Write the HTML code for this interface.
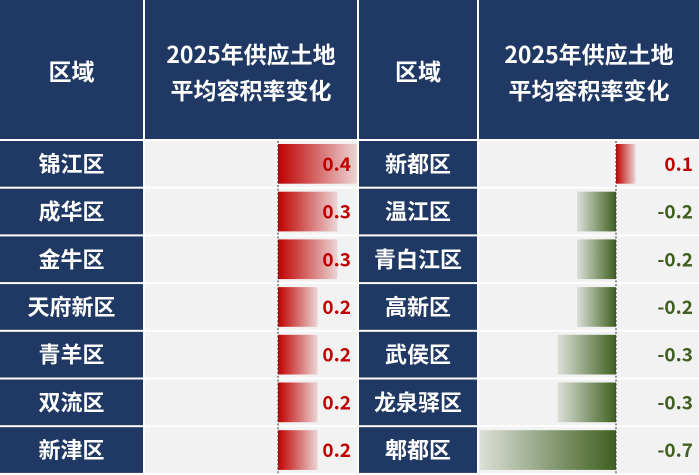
<!DOCTYPE html>
<html><head><meta charset="utf-8">
<style>
html,body{margin:0;padding:0;background:#fff;}
svg{display:block;}
text{font-family:"Noto Sans CJK SC","Liberation Sans",sans-serif;}
</style></head>
<body>
<svg id="chart" width="699" height="475" viewBox="0 0 699 475" xmlns="http://www.w3.org/2000/svg">
<defs>
<linearGradient id="gRed" x1="0" x2="1" y1="0" y2="0"><stop offset="0" stop-color="#c00000"/><stop offset="1" stop-color="#c00000" stop-opacity="0.12"/></linearGradient>
<linearGradient id="gGreen" x1="1" x2="0" y1="0" y2="0"><stop offset="0" stop-color="#3f5f1f"/><stop offset="1" stop-color="#3f5f1f" stop-opacity="0.12"/></linearGradient>
</defs>
<rect x="0" y="0" width="699" height="475" fill="#fff"/>
<g id="header"></g>
<g id="rows"></g>
</svg>
<script>
const leftRegions = ["锦江区","成华区","金牛区","天府新区","青羊区","双流区","新津区"];
const leftValues = [0.4,0.3,0.3,0.2,0.2,0.2,0.2];
const rightRegions = ["新都区","温江区","青白江区","高新区","武侯区","龙泉驿区","郫都区"];
const rightValues = [0.1,-0.2,-0.2,-0.2,-0.3,-0.3,-0.7];

const NS="http://www.w3.org/2000/svg";
const hdr=document.getElementById('header');
const rowsG=document.getElementById('rows');
const NAVY="#1f3864";
function mk(tag,attrs,parent){const e=document.createElementNS(NS,tag);for(const k in attrs)e.setAttribute(k,attrs[k]);parent.appendChild(e);return e;}

const cols=[{x:0,w:143},{x:145,w:212},{x:359,w:118},{x:479,w:220}];
const headTop=0, headH=139, rowTop=141, rowH=47.7;

cols.forEach((c,i)=>{
  const r=mk('rect',{x:c.x,y:headTop,width:c.w,height:headH,fill:NAVY},hdr);
  
  
  const cx=c.x+c.w/2;
  if(i%2===0){
    const t=mk('text',{x:cx,y:80,'text-anchor':'middle',fill:'#fff','font-size':23,'font-weight':'bold'},hdr);
    t.textContent="区域";
    
    
  } else {
    const t1=mk('text',{x:cx,y:63,'text-anchor':'middle',fill:'#fff','font-size':23,'font-weight':'bold'},hdr);
    t1.textContent="2025年供应土地";
    
    
    const t2=mk('text',{x:cx,y:99,'text-anchor':'middle',fill:'#fff','font-size':23,'font-weight':'bold'},hdr);
    t2.textContent="平均容积率变化";
    
    
  }
});

const leftZero=278, leftScale=198;
const rightZero=616, rightScale=195;
function lx(v){return leftZero+v*leftScale;}
function rx(v){return rightZero+v*rightScale;}

function drawPanel(regions,values,regCol,valCol,xf,zero,side){
  regions.forEach((name,i)=>{
    const y=rowTop+i*rowH, h=rowH-2;
    const rc=mk('rect',{x:regCol.x,y:y,width:regCol.w,height:h,fill:NAVY},rowsG);
    
    
    const t=mk('text',{x:regCol.x+regCol.w/2,y:y+h/2+8,'text-anchor':'middle',fill:'#fff','font-size':22,'font-weight':'bold'},rowsG);
    t.textContent=name;
    
    
    const vc=mk('rect',{x:valCol.x,y:y,width:valCol.w,height:h,fill:'#f2f2f2'},rowsG);
    
    
    const v=values[i];
    const x0=Math.min(xf(0),xf(v)), x1=Math.max(xf(0),xf(v));
    const b=mk('rect',{x:x0,y:y+3,width:x1-x0,height:h-6,fill:v>=0?'url(#gRed)':'url(#gGreen)'},rowsG);
    
    
    const ln=mk('line',{x1:zero,x2:zero,y1:y,y2:y+h+2,stroke:'#333','stroke-width':1,'stroke-dasharray':'2,2'},rowsG);
    
    
    const vt=mk('text',{x:valCol.x+valCol.w-6,y:y+h/2+7,'text-anchor':'end',fill:v>=0?'#c00000':'#3f5f1f','font-size':19,'font-weight':'bold'},rowsG);
    vt.textContent=v.toFixed(1);
    
    
  });
}
drawPanel(leftRegions,leftValues,cols[0],cols[1],lx,leftZero,'left');
drawPanel(rightRegions,rightValues,cols[2],cols[3],rx,rightZero,'right');
</script>
</body></html>
